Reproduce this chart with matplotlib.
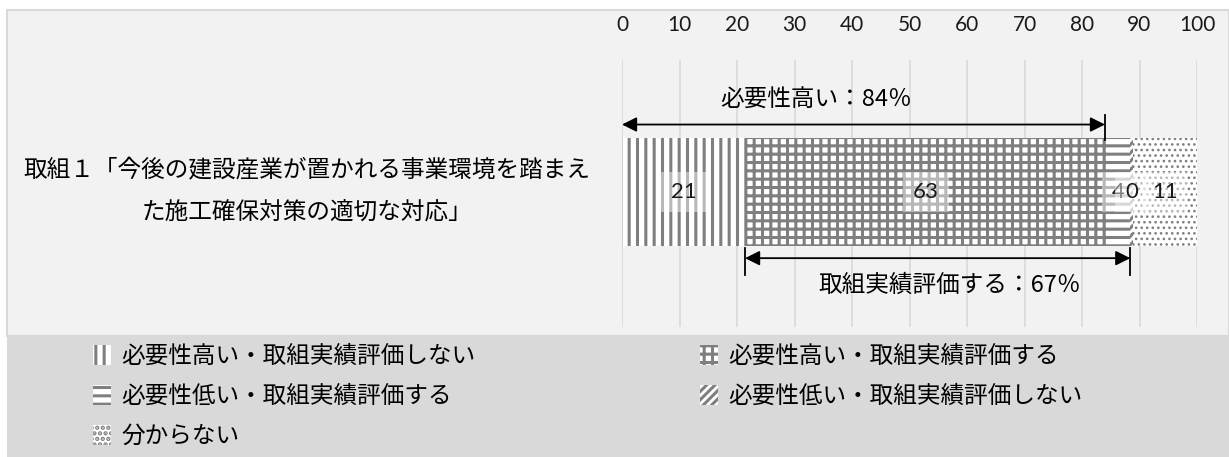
import matplotlib
matplotlib.use("Agg")
import matplotlib.pyplot as plt
from matplotlib.patches import Rectangle

plt.rcParams['font.family'] = ['Noto Sans CJK JP', 'DejaVu Sans']
plt.rcParams['hatch.linewidth'] = 2.2

# data
category = "取組１「今後の建設産業が置かれる事業環境を踏まえ\nた施工確保対策の適切な対応」"
series = ["必要性高い・取組実績評価しない", "必要性高い・取組実績評価する",
          "必要性低い・取組実績評価する", "必要性低い・取組実績評価しない",
          "分からない"]
values = [21.4, 62.9, 4.1, 0.4, 11.2]
hatches = ["||", "++", "--", "////", "..."]
xticks = list(range(0, 101, 10))
need_high = 84
done_eval = 67

fig = plt.figure(figsize=(12.29, 4.57), dpi=100)
W, H = 1229, 457

# panel backgrounds
fig.patches.append(Rectangle((7 / W, 1 - 336 / H), 1 - 7 / W, 326 / H,
                             transform=fig.transFigure, facecolor='#f2f2f2',
                             edgecolor='#d9d9d9', lw=1.5, zorder=-10))
fig.patches.append(Rectangle((7 / W, 0), 1 - 7 / W, 1 - 336 / H - 0.002,
                             transform=fig.transFigure, facecolor='#d9d9d9',
                             edgecolor='none', zorder=-10))

ax = fig.add_axes([622 / W, 1 - 327 / H, 575 / W, 267 / H])
ax.set_facecolor('none')
ax.set_xlim(0, 100)
ax.set_ylim(-1.0, 0.978)

left = 0
bars = []
for name, v, h in zip(series, values, hatches):
    b = ax.barh(0, v, left=left, height=0.8, color='white', edgecolor='#7f7f7f',
                lw=0, hatch=h, label=name, zorder=2)
    if h == "...":
        for p in b.patches:
            if hasattr(p, 'set_hatch_linewidth'):
                p.set_hatch_linewidth(1.1)
    bars.append(b)
    left += v

for b in bars:
    ax.bar_label(b, labels=["%.0f" % b.patches[0].get_width()], label_type='center',
                 fontsize=16, family=['Lato'], color='#1a1a1a', zorder=5,
                 bbox=dict(facecolor='white', alpha=0.45, edgecolor='none', pad=7))

ax.xaxis.tick_top()
ax.set_xticks(xticks)
ax.set_xticklabels([str(t) for t in xticks], family=['Lato'], fontsize=15,
                   color='#1a1a1a')
ax.tick_params(axis='x', length=0, pad=18)
ax.set_yticks([0])
ax.set_yticklabels([category], fontsize=17, linespacing=2.05, va='center')
for t in ax.get_yticklabels():
    t.set_multialignment('center')
ax.tick_params(axis='y', length=0, pad=23)
ax.grid(axis='x', color='#d9d9d9', lw=1.2)
ax.set_axisbelow(True)
for s in ax.spines.values():
    s.set_visible(False)

# bracket annotations
ax.annotate("", xy=(0, 0.5), xytext=(need_high, 0.5),
            arrowprops=dict(arrowstyle='<|-|>', color='black', lw=1.3,
                            mutation_scale=22, shrinkA=0, shrinkB=0), zorder=6)
ax.plot([need_high, need_high], [0.385, 0.57], color='black', lw=1.3, zorder=6)
ax.text(33.7, 0.68, "必要性高い：%d％" % need_high, ha='center', va='center',
        fontsize=17, zorder=6)

x0 = values[0]
x1 = values[0] + values[1] + values[2]
ax.annotate("", xy=(x0, -0.49), xytext=(x1, -0.49),
            arrowprops=dict(arrowstyle='<|-|>', color='black', lw=1.3,
                            mutation_scale=22, shrinkA=0, shrinkB=0), zorder=6)
ax.plot([x0, x0], [-0.415, -0.615], color='black', lw=1.3, zorder=6)
ax.plot([x1, x1], [-0.415, -0.615], color='black', lw=1.3, zorder=6)
ax.text(57, -0.69, "取組実績評価する：%d％" % done_eval, ha='center', va='center',
        fontsize=17, zorder=6)

# legend, row-major order in two columns
handles, labels = ax.get_legend_handles_labels()
order = [0, 2, 4, 1, 3]
leg = fig.legend([handles[i] for i in order], [labels[i] for i in order],
                 ncol=2, loc='upper left', bbox_to_anchor=(93 / W, 1 - 345 / H),
                 frameon=False, fontsize=17, handlelength=0.75, handleheight=0.9,
                 handletextpad=0.45, columnspacing=9.5, labelspacing=0.72,
                 borderpad=0, borderaxespad=0)
for p in leg.get_patches():
    p.set_edgecolor('#7f7f7f')

fig.savefig("out.png", dpi=100, facecolor='white')
